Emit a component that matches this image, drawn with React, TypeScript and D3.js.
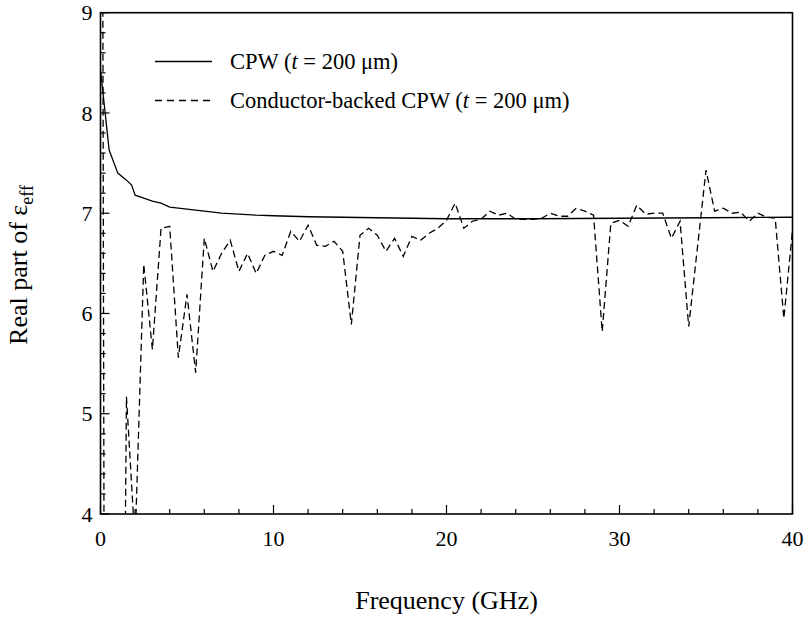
import React from 'react';
import * as d3 from 'd3';

// CPW (t = 200 um) - solid
const cpwFreq = [0, 0.5, 1, 1.5, 1.8, 2, 2.5, 3, 3.5, 4, 4.5, 5, 5.5, 6, 7, 8, 9, 10, 11, 12, 14, 16, 18, 20, 22, 25, 30, 35, 40];
const cpwEps = [8.43, 7.63, 7.4, 7.33, 7.28, 7.18, 7.15, 7.12, 7.1, 7.06, 7.05, 7.04, 7.03, 7.02, 7.0, 6.99, 6.98, 6.975, 6.97, 6.965, 6.96, 6.955, 6.95, 6.945, 6.945, 6.945, 6.95, 6.955, 6.96];

// Conductor-backed CPW (t = 200 um) - dashed
const cbFreq = [0, 0.5, 1, 1.5, 2, 2.5, 3, 3.5, 4, 4.5, 5, 5.5, 6, 6.5, 7, 7.5, 8, 8.5, 9, 9.5, 10,
  10.5, 11, 11.5, 12, 12.5, 13, 13.5, 14, 14.5, 15, 15.5, 16, 16.5, 17, 17.5, 18, 18.5, 19, 19.5, 20,
  20.5, 21, 21.5, 22, 22.5, 23, 23.5, 24, 24.5, 25, 25.5, 26, 26.5, 27, 27.5, 28, 28.5, 29, 29.5, 30,
  30.5, 31, 31.5, 32, 32.5, 33, 33.5, 34, 34.5, 35, 35.5, 36, 36.5, 37, 37.5, 38, 38.5, 39, 39.5, 40];
const cbEps = [20, -20, -5, 5.17, 3.7, 6.49, 5.64, 6.85, 6.87, 5.56, 6.19, 5.41, 6.75, 6.42, 6.6, 6.73, 6.42, 6.6, 6.4, 6.58, 6.62,
  6.58, 6.82, 6.72, 6.88, 6.68, 6.67, 6.72, 6.62, 5.89, 6.78, 6.85, 6.78, 6.62, 6.75, 6.57, 6.77, 6.73, 6.8, 6.85, 6.93,
  7.1, 6.85, 6.92, 6.94, 7.02, 6.98, 7.0, 6.94, 6.94, 6.94, 6.95, 7.0, 6.97, 6.97, 7.05, 7.02, 6.98, 5.82, 6.9, 6.93,
  6.87, 7.08, 6.99, 7.0, 7.0, 6.75, 6.92, 5.87, 6.65, 7.43, 7.02, 7.05, 7.0, 7.01, 6.92, 7.0, 6.96, 6.95, 5.95, 6.83];

const xTickLabels = [0, 10, 20, 30, 40];
const yTickLabels = [4, 5, 6, 7, 8, 9];

const W = 809, H = 622;
const L = 100.5, R = 792.5, T = 12.7, B = 514;
const FONT = "'Liberation Serif', 'Times New Roman', Times, 'DejaVu Serif', serif";
const ts: React.CSSProperties = { fontFamily: FONT };

export default function App() {
  const x = d3.scaleLinear().domain([0, 40]).range([L, R]);
  const y = d3.scaleLinear().domain([4, 9]).range([B, T]);
  const line = d3.line<[number, number]>().x(d => x(d[0])).y(d => y(d[1]));
  const cpwPts = cpwFreq.map((f, i) => [f, cpwEps[i]] as [number, number]);
  const cbPts = cbFreq.map((f, i) => [f, cbEps[i]] as [number, number]);
  const xMinor = d3.range(0, 40.01, 2);
  const yMinor = d3.range(4, 9.001, 0.2);

  return (
    <svg width={W} height={H} style={{ position: 'absolute', left: 0, top: 0, background: '#fff' }}>
      <defs>
        <clipPath id="plotclip">
          <rect x={L} y={T} width={R - L} height={B - T} />
        </clipPath>
      </defs>
      <g clipPath="url(#plotclip)">
        <path d={line(cpwPts) || ''} fill="none" stroke="#000" strokeWidth={1.3} />
        <path d={line(cbPts) || ''} fill="none" stroke="#000" strokeWidth={1.3} strokeDasharray="7,4" />
      </g>
      {xMinor.map(v => {
        const major = Math.abs(v % 10) < 1e-6;
        return <line key={'xt' + v} x1={x(v)} x2={x(v)} y1={B} y2={B - (major ? 9 : 5)} stroke="#000" strokeWidth={1.2} />;
      })}
      {yMinor.map(v => {
        const major = Math.abs(v - Math.round(v)) < 1e-6;
        return <line key={'yt' + v.toFixed(1)} x1={L} x2={L + (major ? 9 : 5)} y1={y(v)} y2={y(v)} stroke="#000" strokeWidth={1.2} />;
      })}
      <rect x={L} y={T} width={R - L} height={B - T} fill="none" stroke="#000" strokeWidth={1.6} />
      {xTickLabels.map(v => (
        <text key={'xl' + v} style={ts} x={x(v)} y={B + 24} dy="0.35em" textAnchor="middle" fontSize={22}>{v}</text>
      ))}
      {yTickLabels.map(v => (
        <text key={'yl' + v} style={ts} x={L - 8} y={y(v)} dy="0.35em" textAnchor="end" fontSize={22}>{v}</text>
      ))}
      <text style={ts} x={(L + R) / 2} y={600} dy="0.35em" textAnchor="middle" fontSize={26}>Frequency (GHz)</text>
      <text style={ts} transform={`translate(27,265) rotate(-90)`} textAnchor="middle" fontSize={26}>
        Real part of ε<tspan fontSize={18} dy={6}>eff</tspan>
      </text>
      <line x1={155} x2={212} y1={61.5} y2={61.5} stroke="#000" strokeWidth={1.3} />
      <text style={ts} x={230} y={61.5} dy="0.35em" fontSize={22.5}>CPW (<tspan fontStyle="italic">t</tspan> = 200 μm)</text>
      <line x1={155} x2={212} y1={100.5} y2={100.5} stroke="#000" strokeWidth={1.3} strokeDasharray="7,5" />
      <text style={ts} x={230} y={100.5} dy="0.35em" fontSize={22.5}>Conductor-backed CPW (<tspan fontStyle="italic">t</tspan> = 200 μm)</text>
    </svg>
  );
}
